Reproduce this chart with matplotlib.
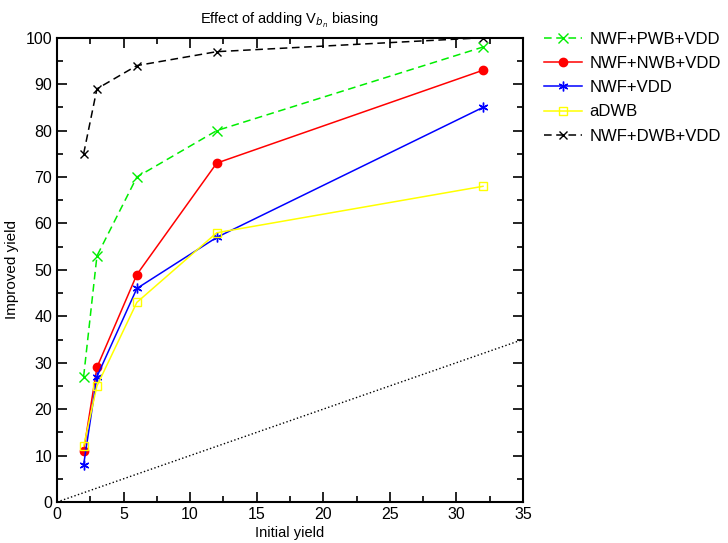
import matplotlib
matplotlib.use('Agg')
import matplotlib.pyplot as plt
from matplotlib.ticker import MultipleLocator

plt.rcParams['font.family'] = ['Liberation Sans', 'DejaVu Sans']

# data
x = [2, 3, 6, 12, 32]
pwb = [27, 53, 70, 80, 98]
nwb = [11, 29, 49, 73, 93]
vdd = [8, 27, 46, 57, 85]
adwb = [12, 25, 43, 58, 68]
dwb = [75, 89, 94, 97, 100]
diag = [0, 35]

fig = plt.figure(figsize=(7.28, 5.43), dpi=100)
ax = fig.add_axes([0.0783, 0.0755, 0.640, 0.855])

ax.plot(x, pwb, color='#00ee00', linestyle='--', marker='x', ms=7, lw=1.1,
        dashes=(5, 3), label='NWF+PWB+VDD')
ax.plot(x, nwb, color='red', marker='o', ms=6, lw=1.1, label='NWF+NWB+VDD')
ax.plot(x, vdd, color='blue', marker=(6, 2, 0), ms=7, lw=1.1, label='NWF+VDD')
ax.plot(x, adwb, color='yellow', marker='s', ms=6, mfc='none', lw=1.1, label='aDWB')
ax.plot(x, dwb, color='black', linestyle='--', marker='x', ms=6, lw=1.1,
        dashes=(5, 3), label='NWF+DWB+VDD')
ax.plot(diag, diag, color='black', linestyle=':', lw=1.0)

ax.set_xlim(0, 35)
ax.set_ylim(0, 100)
ax.xaxis.set_major_locator(MultipleLocator(5))
ax.xaxis.set_minor_locator(MultipleLocator(2.5))
ax.yaxis.set_major_locator(MultipleLocator(10))
ax.yaxis.set_minor_locator(MultipleLocator(5))
ax.tick_params(which='both', direction='in', top=True, right=True, labelsize=11.5, width=1.2)
ax.tick_params(which='major', length=7)
ax.tick_params(which='minor', length=4.5)
for s in ax.spines.values():
    s.set_linewidth(1.5)

ax.set_xlabel('Initial yield', fontsize=10.5, labelpad=3)
ax.set_ylabel('Improved yield', fontsize=11, labelpad=5)
ax.set_title('Effect of adding V$_{b_n}$ biasing', fontsize=10.5, pad=10)

ax.legend(loc='upper left', bbox_to_anchor=(1.012, 1.045), frameon=False,
          fontsize=12, handlelength=2.3, handletextpad=0.45, labelspacing=0.55)

fig.savefig('out.png', dpi=100)
